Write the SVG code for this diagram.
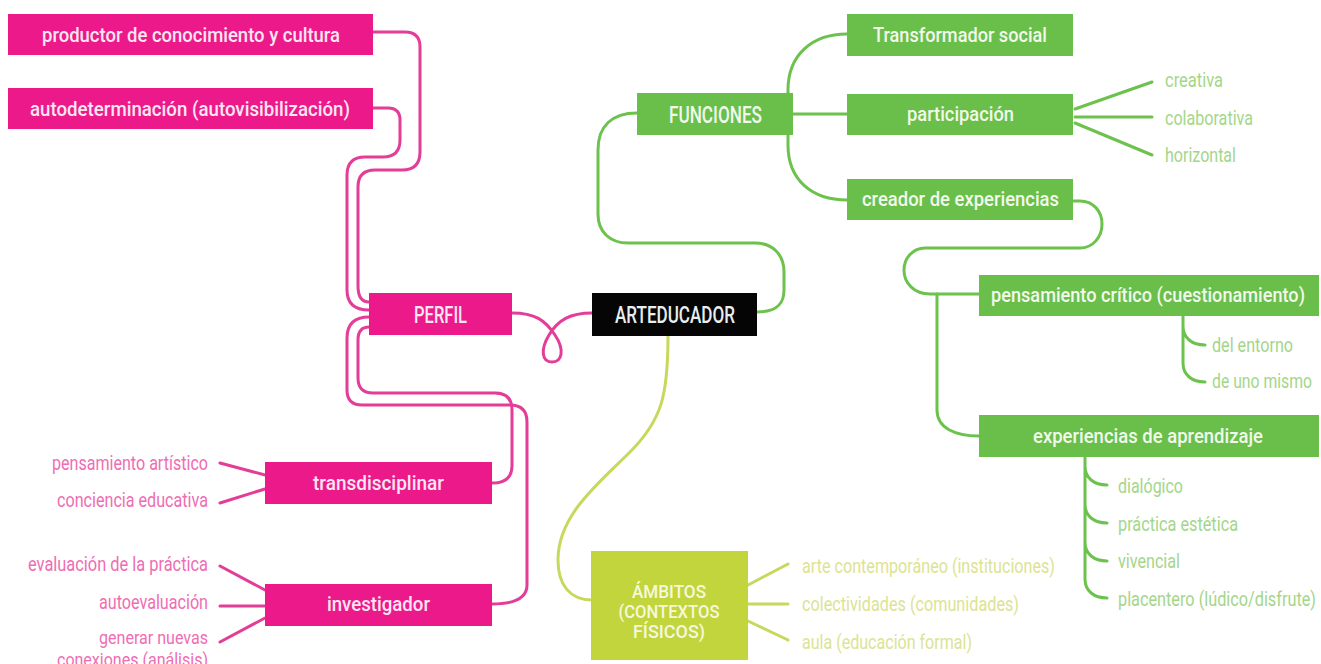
<svg xmlns="http://www.w3.org/2000/svg" width="1321" height="664" viewBox="0 0 1321 664">
<style>
.bg{fill:#ffffff}
.pk{fill:#ec198b}
.gr{fill:#69bf4a}
.yl{fill:#c3d53c}
.bk{fill:#050505}
.lp{fill:none;stroke:#e33d98;stroke-width:3;stroke-linecap:round}
.lg{fill:none;stroke:#6cc24d;stroke-width:3;stroke-linecap:round}
.ly{fill:none;stroke:#c8d85c;stroke-width:3;stroke-linecap:round}
text{font-family:"Roboto","Liberation Sans",sans-serif}
.tb{font-size:21px;font-weight:500;text-anchor:middle}
.tu{font-size:23px;font-weight:500;text-anchor:middle}
.ta{font-size:18px;font-weight:500;text-anchor:middle}
.tpk{fill:#fde6f2}
.tgr{fill:#f1f9ea}
.tyl{fill:#f6f8dc}
.tbk{fill:#e8eef0}
.leafg{font-size:20px;fill:#a4d68a}
.leafp{font-size:20px;fill:#ee6db3;text-anchor:end}
.leafs{font-size:18px}
.leafy{font-size:20px;fill:#dce393}
</style>
<rect class="bg" x="0" y="0" width="1321" height="664"/>
<g id="connectors">
  <path class="lp" d="M373,32 L405,32 Q420,32 420,47 L420,152 Q420,170 402,170 L375,170 Q358,170 358,187 L358,286 Q358,302 369,302"/>
  <path class="lp" d="M373,108 L388,108 Q400,108 400,120 L400,140 Q400,157 383,157 L365,157 Q347,157 347,175 L347,290 Q347,310 369,310"/>
  <path class="lp" d="M369,327 Q358,327 358,340 L358,378 Q358,393 373,393 L495,393 Q512,393 512,410 L512,466 Q512,483 492,483"/>
  <path class="lp" d="M369,317 Q347,317 347,338 L347,390 Q347,405 362,405 L510,405 Q527,405 527,422 L527,585 Q527,604 492,604"/>
  <path class="lp" d="M512,313 C535,313 545,320 555,335 C565,350 562,362 552,362 C542,362 540,350 549,335 C558,320 570,313 592,313"/>
  <path class="lp" d="M220,463 L265,475 M220,503 L265,489 M220,566 L265,590 M220,606 L265,606 M220,642 L265,618"/>
  <path class="lg" d="M757,312 C778,312 784,303 784,290 L784,272 C784,254 772,243 755,243 L628,243 C610,243 598,232 598,214 L598,150 C598,126 612,113 637,113"/>
  <path class="lg" d="M788,114 L788,90 C788,55 812,34 847,34"/>
  <path class="lg" d="M793,114 L847,114"/>
  <path class="lg" d="M788,114 L788,145 C788,180 812,200 847,200"/>
  <path class="lg" d="M1075,109 L1152,82 M1075,117 L1152,117 M1075,123 L1152,155"/>
  <path class="lg" d="M1073,201 L1080,201 C1093,201 1102,211 1102,224 C1102,237 1093,248 1080,248 L925,248 C913,248 904,258 904,270 C904,283 914,294 930,294 L979,294"/>
  <path class="lg" d="M937,294 L937,410 C937,428 955,436 979,436"/>
  <path class="lg" d="M1183,316 L1183,326 C1183,338 1192,345 1205,345 M1183,326 L1183,363 C1183,375 1192,382 1205,382"/>
  <path class="lg" d="M1085,457 L1085,466 C1085,478 1094,485 1107,485 M1085,466 L1085,504 C1085,516 1094,523 1107,523 M1085,504 L1085,542 C1085,554 1094,561 1107,561 M1085,542 L1085,579 C1085,591 1094,598 1107,598"/>
  <path class="ly" d="M668,336 C668,395 662,420 630,452 C598,484 558,515 558,560 C558,585 570,600 592,600"/>
  <path class="ly" d="M748,585 L788,564 M748,604 L788,604 M748,621 L788,640"/>
</g>
<g id="n-productor">
  <rect class="pk" x="8" y="14" width="365" height="41"/>
  <text class="tb tpk" x="191" y="42" textLength="298" lengthAdjust="spacingAndGlyphs">productor de conocimiento y cultura</text>
</g>
<g id="n-autodeterminacion">
  <rect class="pk" x="8" y="88" width="365" height="41"/>
  <text class="tb tpk" x="190" y="116" textLength="320" lengthAdjust="spacingAndGlyphs">autodeterminación (autovisibilización)</text>
</g>
<g id="n-perfil">
  <rect class="pk" x="369" y="293" width="143" height="42"/>
  <text class="tu tpk" x="440.5" y="323" textLength="53" lengthAdjust="spacingAndGlyphs">PERFIL</text>
</g>
<g id="n-arteducador">
  <rect class="bk" x="592" y="293" width="165" height="43"/>
  <text class="tu tbk" x="675" y="323" textLength="120" lengthAdjust="spacingAndGlyphs">ARTEDUCADOR</text>
</g>
<g id="n-transdisciplinar">
  <rect class="pk" x="265" y="462" width="227" height="42"/>
  <text class="tb tpk" x="378.5" y="490" textLength="131" lengthAdjust="spacingAndGlyphs">transdisciplinar</text>
</g>
<g id="n-investigador">
  <rect class="pk" x="265" y="584" width="227" height="42"/>
  <text class="tb tpk" x="378.5" y="611" textLength="103" lengthAdjust="spacingAndGlyphs">investigador</text>
</g>
<g id="n-pink-leaves">
  <text class="leafp" x="208" y="470" textLength="156" lengthAdjust="spacingAndGlyphs">pensamiento artístico</text>
  <text class="leafp" x="208" y="507" textLength="151" lengthAdjust="spacingAndGlyphs">conciencia educativa</text>
  <text class="leafp" x="208" y="571" textLength="180" lengthAdjust="spacingAndGlyphs">evaluación de la práctica</text>
  <text class="leafp" x="208" y="609" textLength="109" lengthAdjust="spacingAndGlyphs">autoevaluación</text>
  <text class="leafp leafs" x="208" y="644" textLength="109" lengthAdjust="spacingAndGlyphs">generar nuevas</text>
  <text class="leafp leafs" x="208" y="666" textLength="151" lengthAdjust="spacingAndGlyphs">conexiones (análisis)</text>
</g>
<g id="n-funciones">
  <rect class="gr" x="637" y="93" width="156" height="42"/>
  <text class="tu tgr" x="715.5" y="123" textLength="93" lengthAdjust="spacingAndGlyphs">FUNCIONES</text>
</g>
<g id="n-transformador">
  <rect class="gr" x="847" y="14" width="226" height="42"/>
  <text class="tb tgr" x="960" y="42" textLength="174" lengthAdjust="spacingAndGlyphs">Transformador social</text>
</g>
<g id="n-participacion">
  <rect class="gr" x="847" y="94" width="226" height="41"/>
  <text class="tb tgr" x="960.5" y="121" textLength="107" lengthAdjust="spacingAndGlyphs">participación</text>
</g>
<g id="n-creador">
  <rect class="gr" x="847" y="179" width="226" height="41"/>
  <text class="tb tgr" x="960.5" y="206" textLength="197" lengthAdjust="spacingAndGlyphs">creador de experiencias</text>
</g>
<g id="n-pensamiento">
  <rect class="gr" x="979" y="275" width="340" height="41"/>
  <text class="tb tgr" x="1148" y="302" textLength="314" lengthAdjust="spacingAndGlyphs">pensamiento crítico (cuestionamiento)</text>
</g>
<g id="n-experiencias">
  <rect class="gr" x="979" y="415" width="340" height="42"/>
  <text class="tb tgr" x="1148" y="443" textLength="230" lengthAdjust="spacingAndGlyphs">experiencias de aprendizaje</text>
</g>
<g id="n-green-leaves">
  <text class="leafg" x="1165" y="87" textLength="58" lengthAdjust="spacingAndGlyphs">creativa</text>
  <text class="leafg" x="1165" y="125" textLength="88" lengthAdjust="spacingAndGlyphs">colaborativa</text>
  <text class="leafg" x="1165" y="162" textLength="71" lengthAdjust="spacingAndGlyphs">horizontal</text>
  <text class="leafg" x="1212" y="352" textLength="81" lengthAdjust="spacingAndGlyphs">del entorno</text>
  <text class="leafg" x="1212" y="388" textLength="100" lengthAdjust="spacingAndGlyphs">de uno mismo</text>
  <text class="leafg" x="1118" y="493" textLength="65" lengthAdjust="spacingAndGlyphs">dialógico</text>
  <text class="leafg" x="1118" y="531" textLength="120" lengthAdjust="spacingAndGlyphs">práctica estética</text>
  <text class="leafg" x="1118" y="568" textLength="62" lengthAdjust="spacingAndGlyphs">vivencial</text>
  <text class="leafg" x="1118" y="606" textLength="198" lengthAdjust="spacingAndGlyphs">placentero (lúdico/disfrute)</text>
</g>
<g id="n-ambitos">
  <rect class="yl" x="591" y="551" width="157" height="109"/>
  <text class="ta tyl" x="669" y="598" textLength="74" lengthAdjust="spacingAndGlyphs">ÁMBITOS</text>
  <text class="ta tyl" x="669" y="618" textLength="101" lengthAdjust="spacingAndGlyphs">(CONTEXTOS</text>
  <text class="ta tyl" x="669" y="638" textLength="72" lengthAdjust="spacingAndGlyphs">FÍSICOS)</text>
</g>
<g id="n-ambitos-leaves">
  <text class="leafy" x="802" y="573" textLength="253" lengthAdjust="spacingAndGlyphs">arte contemporáneo (instituciones)</text>
  <text class="leafy" x="802" y="611" textLength="217" lengthAdjust="spacingAndGlyphs">colectividades (comunidades)</text>
  <text class="leafy" x="802" y="649" textLength="170" lengthAdjust="spacingAndGlyphs">aula (educación formal)</text>
</g>
</svg>
